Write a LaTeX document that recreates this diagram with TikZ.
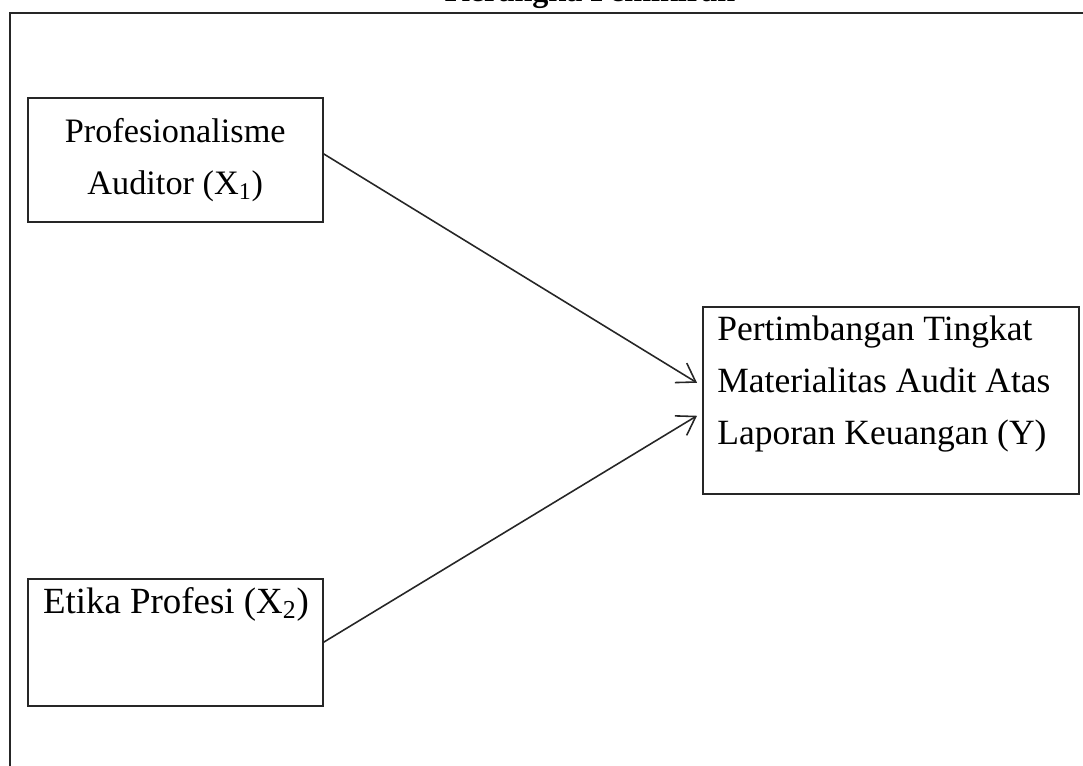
\documentclass[tikz,border=0pt]{standalone}
\usepackage{fontspec}
\setmainfont{Liberation Serif}
\usepackage{tikz}
\usetikzlibrary{arrows.meta, positioning}
\tikzstyle{varbox}  = [rectangle, draw=black!85, line width=0.9pt, inner sep=0pt,
                       anchor=north west]
\tikzstyle{vartext} = [inner sep=0pt, font=\fontsize{19.5}{29.5}\selectfont]
\tikzstyle{arrow}   = [-{Straight Barb[length=10pt,width=13pt]}, line width=0.9pt,
                       color=black!85]

\begin{document}
\begin{tikzpicture}[x=0.02cm, y=-0.02cm]
  \useasboundingbox (0,0) rectangle (1083,765);

  %% title and outer frame
  \node[anchor=base, font=\fontsize{18.3}{22}\selectfont\bfseries] (title)
    at (590,1) {Kerangka Pemikiran};
  \draw[line width=1.1pt, black!85] (10,1100) |- (1200,13);

  %% independent variables
  \node[varbox, minimum width=5.9cm, minimum height=2.48cm] (x1) at (27,97) {};
  \node[vartext, align=center] (x1txt) at (x1.center)
    {Profesionalisme\\Auditor (X\textsubscript{1})};

  \node[varbox, minimum width=5.9cm, minimum height=2.54cm] (x2) at (27,578) {};
  \node[vartext, anchor=base, font=\fontsize{21}{29.5}\selectfont] (x2txt)
    at (176,613) {Etika Profesi (X\textsubscript{2})};

  %% dependent variable
  \node[varbox, minimum width=7.52cm, minimum height=3.74cm] (y) at (702,306) {};
  \node[vartext, align=left, anchor=north west,
        font=\fontsize{20.2}{29.5}\selectfont] (ytxt) at (717,316)
    {Pertimbangan Tingkat\\Materialitas Audit Atas\\Laporan Keuangan (Y)};

  %% arrows
  \draw[arrow] ([yshift=0.12cm]x1.east) -- ([xshift=-0.1cm, yshift=0.35cm]y.west);
  \draw[arrow] (x2.east) -- ([xshift=-0.1cm, yshift=-0.31cm]y.west);

\end{tikzpicture}
\end{document}
